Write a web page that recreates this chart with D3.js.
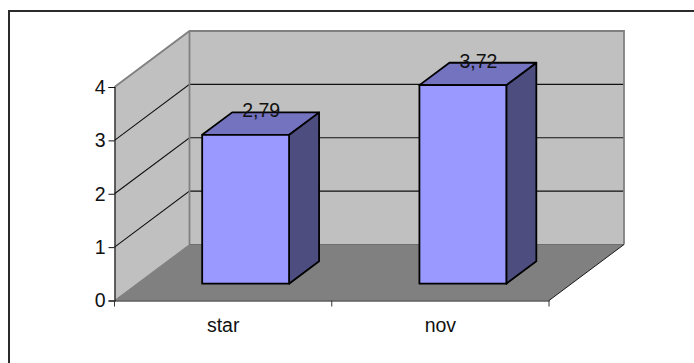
<!DOCTYPE html>
<html>
<head>
<meta charset="utf-8">
<script src="https://cdnjs.cloudflare.com/ajax/libs/d3/7.8.5/d3.min.js"></script>
<style>
html,body{margin:0;padding:0;background:#fff}
svg{display:block}
text{font-family:"Liberation Sans",Arial,sans-serif;font-size:19.5px;fill:#111}
</style>
</head>
<body>
<svg id="chart" width="694" height="363"></svg>
<script>
const categories = ["star", "nov"];
const values = [2.79, 3.72];
const valueLabels = ["2,79", "3,72"];
const yTicks = [0, 1, 2, 3, 4];

const svg = d3.select("#chart");

const x = d3.scaleBand().domain(categories).range([114.5, 549]);
const y = d3.scaleLinear().domain([0, 4]).range([300.5, 87]);

// Oblique projection: a point at depth d (0 = front edge, 1 = back wall) shifts up and right.
const depthX = 75, depthY = -56;
const px = (vx, d) => vx + d * depthX;
const py = (vy, d) => vy + d * depthY;
const pts = a => a.map(p => p.join(",")).join(" ");

const xMin = x.range()[0], xMax = x.range()[1];

// Outer frame of the chart area: only the top and left edges fall inside the page.
svg.append("path")
  .attr("d", "M9 363V11H694")
  .attr("fill", "none").attr("stroke", "#2b2b2b").attr("stroke-width", 2);

// Side wall
svg.append("polygon")
  .attr("points", pts([[px(xMin,0),py(y(0),0)],[px(xMin,0),py(y(4),0)],[px(xMin,1),py(y(4),1)],[px(xMin,1),py(y(0),1)]]))
  .attr("fill", "#c0c0c0");
// Back wall
svg.append("polygon")
  .attr("points", pts([[px(xMin,1),py(y(0),1)],[px(xMin,1),py(y(4),1)],[px(xMax,1),py(y(4),1)],[px(xMax,1),py(y(0),1)]]))
  .attr("fill", "#c0c0c0");
// Floor
svg.append("polygon")
  .attr("points", pts([[px(xMin,0),y(0)],[px(xMin,1),py(y(0),1)],[px(xMax,1),py(y(0),1)],[px(xMax,0),y(0)]]))
  .attr("fill", "#808080");

// Gridlines across the side wall and the back wall
yTicks.filter(t => t > 0 && t < 4).forEach(t => {
  svg.append("polyline")
    .attr("points", pts([[px(xMin,0),y(t)],[px(xMin,1),py(y(t),1)],[px(xMax,1),py(y(t),1)]]))
    .attr("fill", "none").attr("stroke", "#111").attr("stroke-width", 1.1);
});

// Wall outlines
svg.append("polyline")
  .attr("points", pts([[px(xMin,0),y(4)],[px(xMin,1),py(y(4),1)],[px(xMax,1),py(y(4),1)],[px(xMax,1),py(y(0),1)]]))
  .attr("fill", "none").attr("stroke", "#808080").attr("stroke-width", 1.8);
svg.append("line")
  .attr("x1", px(xMin,1)).attr("x2", px(xMin,1))
  .attr("y1", py(y(4),1)).attr("y2", py(y(0),1))
  .attr("stroke", "#808080").attr("stroke-width", 1.8);
svg.append("line")
  .attr("x1", px(xMin,0)).attr("y1", y(0))
  .attr("x2", px(xMin,1)).attr("y2", py(y(0),1))
  .attr("stroke", "#808080").attr("stroke-width", 1);
svg.append("line")
  .attr("x1", px(xMin,1)).attr("x2", px(xMax,1))
  .attr("y1", py(y(0),1)).attr("y2", py(y(0),1))
  .attr("stroke", "#6e6e6e").attr("stroke-width", 1.2);
svg.append("line")
  .attr("x1", px(xMax,0)).attr("y1", y(0))
  .attr("x2", px(xMax,1)).attr("y2", py(y(0),1))
  .attr("stroke", "#1a1a1a").attr("stroke-width", 1);

// Axes
const yAxis = d3.axisLeft(y).tickValues(yTicks).tickSize(6).tickPadding(3).tickFormat(d3.format("d"));
const gy = svg.append("g").attr("transform", `translate(${xMin},0)`).call(yAxis);
const xAxis = d3.axisBottom(x).tickSize(0).tickPadding(18);
const gx = svg.append("g").attr("transform", `translate(0,${y(0)})`).call(xAxis);
[gx, gy].forEach(g => {
  g.selectAll("path,line").attr("stroke", "#111");
  g.select(".domain").attr("stroke-width", 1.2);
  g.selectAll("text").style("font-size", "19.5px").attr("fill", "#111");
});
// Category separators below the floor's front edge
svg.append("g").selectAll("line").data([xMin, x("nov"), xMax]).join("line")
  .attr("x1", d => d).attr("x2", d => d)
  .attr("y1", y(0)).attr("y2", y(0) + 6)
  .attr("stroke", "#333");

// Bars: a box on the floor between two depth planes
const dFront = 0.30, dBack = 0.70;
const barWidth = x.bandwidth() / 2.5;
const data = categories.map((c, i) => ({ c, v: values[i], label: valueLabels[i] }));

const bars = svg.append("g").selectAll("g").data(data).join("g");
const left = d => px(x(d.c) + (x.bandwidth() - barWidth) / 2, dFront);
const right = d => left(d) + barWidth;
const ddx = (dBack - dFront) * depthX, ddy = (dBack - dFront) * depthY;
const bottom = py(y(0), dFront);
const top_ = d => py(y(d.v), dFront);

bars.append("polygon") // side face
  .attr("points", d => pts([[right(d),top_(d)],[right(d)+ddx,top_(d)+ddy],[right(d)+ddx,bottom+ddy],[right(d),bottom]]))
  .attr("fill", "#4d4d80");
bars.append("polygon") // top face
  .attr("points", d => pts([[left(d),top_(d)],[left(d)+ddx,top_(d)+ddy],[right(d)+ddx,top_(d)+ddy],[right(d),top_(d)]]))
  .attr("fill", "#7373bf");
bars.append("rect") // front face
  .attr("x", left).attr("y", top_)
  .attr("width", barWidth).attr("height", d => bottom - top_(d))
  .attr("fill", "#9999ff");
bars.selectAll("polygon,rect")
  .attr("stroke", "#000").attr("stroke-width", 1.8).attr("stroke-linejoin", "round");

// Value labels
bars.append("text")
  .attr("x", d => left(d) + barWidth / 2 + 15.5)
  .attr("y", d => top_(d) - 17.5)
  .attr("text-anchor", "middle")
  .text(d => d.label);
</script>
</body>
</html>
